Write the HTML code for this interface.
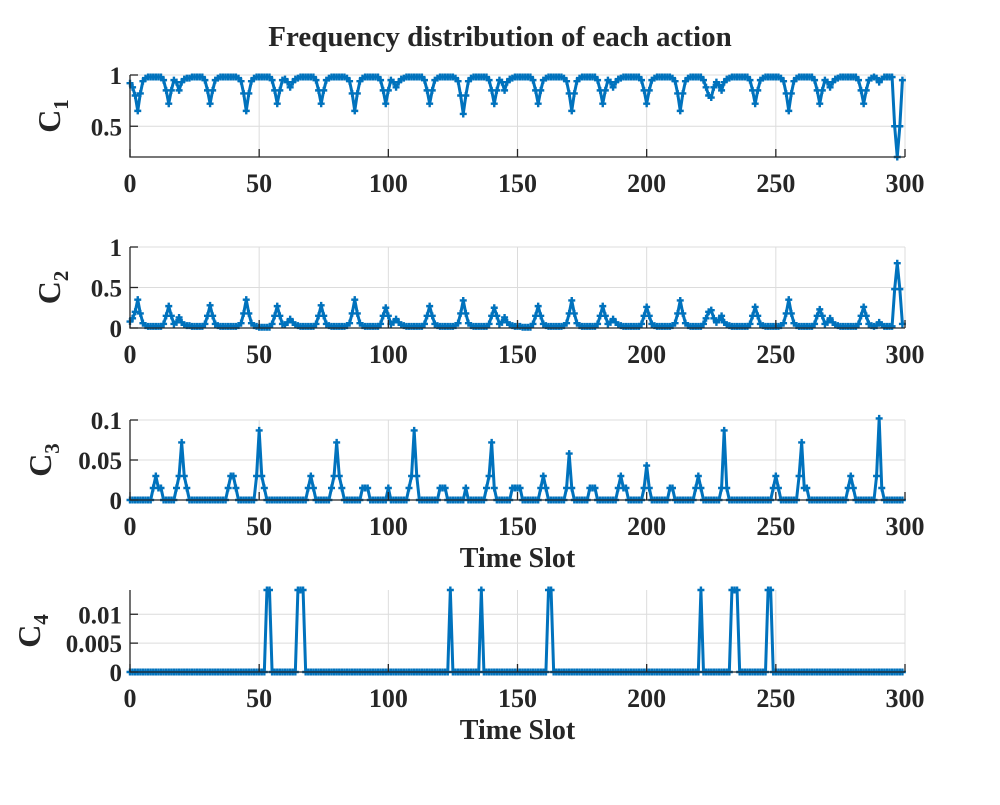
<!DOCTYPE html>
<html><head><meta charset="utf-8"><style>
body{margin:0;background:#fff;}
svg text{font-family:"Liberation Serif",serif;font-weight:bold;fill:#262626;}
</style></head><body>
<svg id="chart" width="1000" height="800" xmlns="http://www.w3.org/2000/svg">
<rect width="1000" height="800" fill="#fff"/>
<text x="500" y="46" text-anchor="middle" font-size="29">Frequency distribution of each action</text>
</svg>
<script>
const xTicks=[0,50,100,150,200,250,300];
const c1Ticks=[0.5,1],c1TickLabels=["0.5","1"];
const c2Ticks=[0,0.5,1],c2TickLabels=["0","0.5","1"];
const c3Ticks=[0,0.05,0.1],c3TickLabels=["0","0.05","0.1"];
const c4Ticks=[0,0.005,0.01],c4TickLabels=["0","0.005","0.01"];
const c1Values=[
.92,.88,.80,.65,.82,.94,.97,.98,.98,.98, .98,.98,.98,.95,.85,.72,.85,.95,.93,.85,
.93,.96,.97,.97,.98,.98,.98,.98,.98,.95, .85,.72,.85,.95,.97,.98,.98,.98,.98,.98,
.98,.98,.97,.94,.82,.65,.82,.94,.97,.98, .98,.98,.98,.98,.98,.95,.85,.72,.85,.95,
.96,.93,.88,.93,.96,.97,.98,.98,.98,.98, .98,.98,.95,.85,.72,.85,.95,.97,.98,.98,
.98,.98,.98,.98,.97,.94,.82,.65,.82,.94, .97,.98,.98,.98,.98,.98,.98,.95,.85,.72,
.85,.95,.93,.88,.93,.96,.97,.98,.98,.98, .98,.98,.98,.98,.95,.85,.72,.85,.95,.97,
.98,.98,.98,.98,.98,.98,.97,.94,.80,.62, .80,.94,.97,.98,.98,.98,.98,.98,.98,.95,
.85,.72,.85,.95,.93,.85,.93,.96,.97,.98, .98,.98,.98,.98,.98,.98,.95,.85,.72,.85,
.95,.97,.98,.98,.98,.98,.98,.98,.97,.94, .82,.65,.82,.94,.97,.98,.98,.98,.98,.98,
.98,.95,.85,.72,.85,.95,.93,.88,.93,.96, .97,.98,.98,.98,.98,.98,.98,.98,.95,.85,
.72,.85,.95,.97,.98,.98,.98,.98,.98,.98, .97,.94,.82,.65,.82,.94,.97,.98,.98,.98,
.98,.98,.95,.88,.80,.78,.88,.93,.90,.85, .93,.96,.97,.98,.98,.98,.98,.98,.98,.98,
.95,.85,.72,.85,.95,.97,.98,.98,.98,.98, .98,.98,.97,.94,.82,.65,.82,.94,.97,.98,
.98,.98,.98,.98,.98,.95,.85,.72,.85,.95, .93,.88,.93,.96,.97,.98,.98,.98,.98,.98,
.98,.98,.95,.85,.72,.85,.95,.97,.98,.97, .93,.96,.98,.98,.98,.98,.50,.20,.50,.95];
const c2Values=[
.08,.12,.20,.35,.18,.06,.03,.02,.02,.02, .02,.02,.02,.05,.15,.27,.15,.05,.07,.13,
.07,.04,.03,.03,.02,.02,.02,.02,.02,.05, .15,.28,.15,.05,.03,.02,.02,.02,.02,.02,
.02,.02,.03,.06,.18,.35,.18,.06,.03,.02, .01,.01,.01,.01,.01,.05,.15,.27,.15,.05,
.04,.07,.11,.07,.04,.03,.02,.02,.02,.02, .02,.02,.05,.15,.28,.15,.05,.03,.02,.02,
.02,.02,.02,.02,.03,.06,.18,.35,.18,.06, .03,.02,.02,.02,.02,.02,.02,.05,.15,.25,
.15,.05,.07,.11,.07,.04,.03,.02,.02,.02, .02,.02,.02,.02,.05,.15,.27,.15,.05,.03,
.02,.02,.02,.02,.02,.02,.03,.06,.18,.34, .18,.06,.03,.02,.02,.02,.02,.02,.02,.05,
.15,.25,.15,.05,.07,.13,.07,.04,.03,.02, .02,.02,.01,.01,.01,.01,.05,.15,.27,.15,
.05,.03,.02,.02,.02,.02,.02,.02,.03,.06, .18,.34,.18,.06,.03,.02,.02,.02,.02,.02,
.02,.05,.15,.27,.15,.05,.07,.11,.07,.04, .03,.02,.02,.02,.02,.02,.02,.02,.05,.15,
.26,.15,.05,.03,.02,.02,.02,.02,.02,.02, .03,.06,.18,.34,.18,.06,.03,.02,.02,.02,
.02,.02,.05,.12,.20,.22,.12,.07,.10,.15, .07,.04,.03,.02,.02,.02,.02,.02,.02,.02,
.05,.15,.26,.15,.05,.03,.02,.02,.02,.02, .02,.02,.03,.06,.18,.35,.18,.06,.03,.02,
.02,.02,.02,.02,.02,.05,.15,.23,.15,.05, .07,.12,.07,.04,.03,.02,.02,.02,.02,.02,
.02,.02,.05,.15,.26,.15,.05,.03,.02,.03, .07,.04,.02,.02,.02,.02,.48,.80,.48,.05];
const c3Values=[
0,0,0,0,0,0,0,0,0,.015,.03,.015,.015,0,0,0,0,0,.015,.03,
.072,.03,.015,0,0,0,0,0,0,0,0,0,0,0,0,0,0,0,.015,.03,
.03,.015,0,0,0,0,0,0,0,.03,.087,.03,.015,0,0,0,0,0,0,0,
0,0,0,0,0,0,0,0,0,.015,.03,.015,0,0,0,0,0,0,.015,.03,
.072,.03,.015,0,0,0,0,0,0,0,.015,.015,.015,0,0,0,0,0,0,0,
.015,0,0,0,0,0,0,0,.015,.03,.087,.03,0,0,0,0,0,0,0,0,
.015,.015,.015,0,0,0,0,0,0,0,.015,0,0,0,0,0,0,0,.015,.03,
.072,.015,0,0,0,0,0,0,.015,.015,.015,.015,0,0,0,0,0,0,0,.015,
.03,.015,0,0,0,0,0,0,0,.015,.058,.015,0,0,0,0,0,0,.015,.015,
.015,0,0,0,0,0,0,0,0,.015,.03,.015,.015,0,0,0,0,0,0,.015,
.043,.015,0,0,0,0,0,0,0,.015,.015,0,0,0,0,0,0,0,0,.015,
.03,.015,0,0,0,0,0,0,0,.015,.087,.015,0,0,0,0,0,0,0,0,
0,0,0,0,0,0,0,0,0,.015,.03,.015,0,0,0,0,0,0,0,.03,
.072,.015,.015,0,0,0,0,0,0,0,0,0,0,0,0,0,0,0,.015,.03,
.015,0,0,0,0,0,0,0,0,.03,.102,.015,0,0,0,0,0,0,0,0];
const c4Values=[
0,0,0,0,0,0,0,0,0,0,0,0,0,0,0,0,0,0,0,0,
0,0,0,0,0,0,0,0,0,0,0,0,0,0,0,0,0,0,0,0,
0,0,0,0,0,0,0,0,0,0,0,0,0,.0142,.0142,0,0,0,0,0,
0,0,0,0,0,.0142,.0142,.0142,0,0,0,0,0,0,0,0,0,0,0,0,
0,0,0,0,0,0,0,0,0,0,0,0,0,0,0,0,0,0,0,0,
0,0,0,0,0,0,0,0,0,0,0,0,0,0,0,0,0,0,0,0,
0,0,0,0,.0142,0,0,0,0,0,0,0,0,0,0,0,.0142,0,0,0,
0,0,0,0,0,0,0,0,0,0,0,0,0,0,0,0,0,0,0,0,
0,0,.0142,.0142,0,0,0,0,0,0,0,0,0,0,0,0,0,0,0,0,
0,0,0,0,0,0,0,0,0,0,0,0,0,0,0,0,0,0,0,0,
0,0,0,0,0,0,0,0,0,0,0,0,0,0,0,0,0,0,0,0,
0,.0142,0,0,0,0,0,0,0,0,0,0,0,.0142,.0142,.0142,0,0,0,0,
0,0,0,0,0,0,0,.0142,.0142,0,0,0,0,0,0,0,0,0,0,0,
0,0,0,0,0,0,0,0,0,0,0,0,0,0,0,0,0,0,0,0,
0,0,0,0,0,0,0,0,0,0,0,0,0,0,0,0,0,0,0,0];

const NS="http://www.w3.org/2000/svg";
const svg=document.getElementById('chart');
const X0=130,X1=905;
function xs(v){return X0+(v/300)*(X1-X0);}
function mk(tag,attrs,parent){const e=document.createElementNS(NS,tag);for(const k in attrs)e.setAttribute(k,attrs[k]);(parent||svg).appendChild(e);return e;}

const panels=[
 {id:'c1',top:75,bot:157,ymin:0.2,ymax:1,vals:c1Values,ticks:c1Ticks,labels:c1TickLabels,sub:'1',labX:60,xlabel:false},
 {id:'c2',top:247,bot:328,ymin:0,ymax:1,vals:c2Values,ticks:c2Ticks,labels:c2TickLabels,sub:'2',labX:60,xlabel:false},
 {id:'c3',top:420,bot:500,ymin:0,ymax:0.1,vals:c3Values,ticks:c3Ticks,labels:c3TickLabels,sub:'3',labX:51,xlabel:true},
 {id:'c4',top:590,bot:672,ymin:0,ymax:0.0142,vals:c4Values,ticks:c4Ticks,labels:c4TickLabels,sub:'4',labX:40,xlabel:true}
];
panels.forEach(p=>{
 const ys=v=>p.bot-(v-p.ymin)/(p.ymax-p.ymin)*(p.bot-p.top);
 const g=mk('g',{});
 
 
 xTicks.forEach(t=>{const l=mk('line',{x1:xs(t),x2:xs(t),y1:p.top,y2:p.bot,stroke:'#dcdcdc','stroke-width':1},g);
  });
 p.ticks.forEach(t=>{const l=mk('line',{x1:X0,x2:X1,y1:ys(t),y2:ys(t),stroke:'#dcdcdc','stroke-width':1},g);
  });
 const pts=p.vals.map((v,i)=>xs(i).toFixed(2)+','+ys(v).toFixed(2)).join(' ');
 const line=mk('polyline',{points:pts,fill:'none',stroke:'#0072BD','stroke-width':3,'stroke-linejoin':'round'},g);
 
 
 let d='';
 p.vals.forEach((v,i)=>{const x=xs(i),y=ys(v);d+=`M${x-3.5},${y}h7M${x},${y-3.5}v7`;});
 const m=mk('path',{d:d,stroke:'#0072BD','stroke-width':2.4,fill:'none'},g);
 
 
 const ax=mk('path',{d:`M${X0},${p.top}V${p.bot}H${X1}`,stroke:'#262626','stroke-width':1.3,fill:'none'},g);
 
 
 xTicks.forEach(t=>{
  mk('line',{x1:xs(t),x2:xs(t),y1:p.bot,y2:p.bot-8,stroke:'#262626','stroke-width':1.3},g);
  const tx=mk('text',{x:xs(t),y:p.bot+35,'text-anchor':'middle','font-size':26},g);
  tx.textContent=String(t);
  
  
 });
 p.ticks.forEach((t,i)=>{
  mk('line',{x1:X0,x2:X0+8,y1:ys(t),y2:ys(t),stroke:'#262626','stroke-width':1.3},g);
  const tx=mk('text',{x:X0-8,y:ys(t)+9,'text-anchor':'end','font-size':25},g);
  tx.textContent=p.labels[i];
  
  
 });
 const cy=(p.top+p.bot)/2;
 const yl=mk('text',{transform:`translate(${p.labX},${cy}) rotate(-90)`,'text-anchor':'middle','font-size':32},g);
 yl.innerHTML=`C<tspan font-size="21" dy="8">${p.sub}</tspan>`;
 
 
 if(p.xlabel){
  const xl=mk('text',{x:(X0+X1)/2,y:p.bot+67,'text-anchor':'middle','font-size':28},g);
  xl.textContent='Time Slot';
  
  
 }
});
</script>
</body></html>
